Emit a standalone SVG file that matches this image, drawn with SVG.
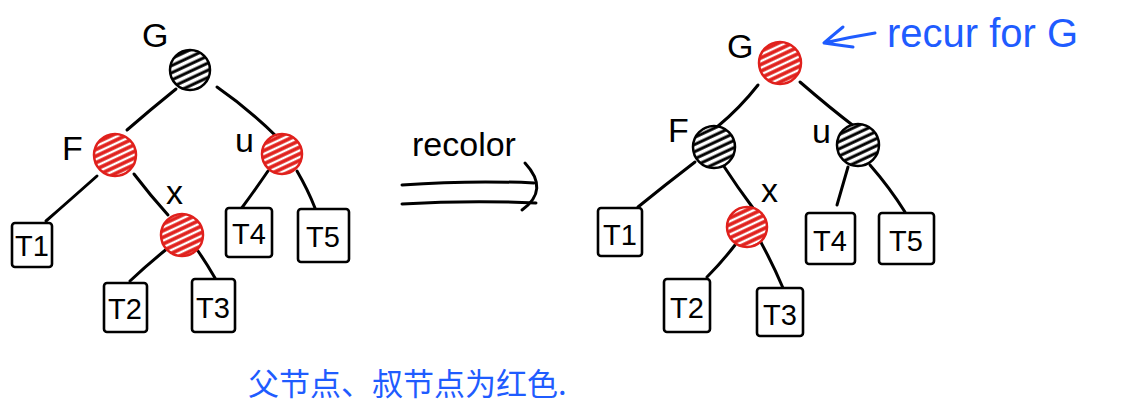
<svg xmlns="http://www.w3.org/2000/svg" width="1124" height="414" viewBox="0 0 1124 414">
<style>
.ln{stroke:#000;stroke-width:3;fill:none;stroke-linecap:round;stroke-linejoin:round}
.bx{stroke:#000;stroke-width:2.6;fill:#fff;stroke-linecap:round}
.lbl{font-family:"Liberation Sans",Arial,sans-serif;font-size:34px;fill:#000}
.tl{font-family:"Liberation Sans",Arial,sans-serif;font-size:29px;fill:#000;text-anchor:middle}
.red{stroke:#e0201c;stroke-width:2.5;fill:url(#hr)}
.blk{stroke:#000;stroke-width:2.5;fill:url(#hb)}
.blue{font-family:"Liberation Sans",Arial,sans-serif;font-size:40px;fill:#1f5cff}
</style>
<defs>
<pattern id="hr" width="6" height="6" patternUnits="userSpaceOnUse" patternTransform="rotate(-25)">
<rect width="6" height="6" fill="#fff"/>
<line x1="0" y1="2" x2="6" y2="2" stroke="#e0201c" stroke-width="3.6"/>
</pattern>
<pattern id="hb" width="6.5" height="6.5" patternUnits="userSpaceOnUse" patternTransform="rotate(-25)">
<rect width="6.5" height="6.5" fill="#fff"/>
<line x1="0" y1="2" x2="6.5" y2="2" stroke="#000" stroke-width="3"/>
</pattern>
</defs>

<g id="connectors">
<path class="ln" d="M176 89 Q150 110 127 130"/>
<path class="ln" d="M217 87 Q250 110 277 137"/>
<path class="ln" d="M97 176 Q70 200 46 221"/>
<path class="ln" d="M134 174 Q150 195 168 215"/>
<path class="ln" d="M268 171 Q255 190 241 209"/>
<path class="ln" d="M297 171 Q308 190 315 208"/>
<path class="ln" d="M168 248 Q148 264 130 281"/>
<path class="ln" d="M198 251 Q207 264 215 278"/>
<path class="ln" d="M758 85 Q740 108 717 127"/>
<path class="ln" d="M800 82 Q830 108 855 127"/>
<path class="ln" d="M695 162 Q665 185 638 207"/>
<path class="ln" d="M723 165 Q738 188 753 208"/>
<path class="ln" d="M848 167 Q842 188 837 205"/>
<path class="ln" d="M870 165 Q890 188 905 212"/>
<path class="ln" d="M735 245 Q722 262 707 277"/>
<path class="ln" d="M758 237 Q772 262 783 288"/>
<path class="ln" d="M402 185 Q470 180 534 183"/>
<path class="ln" d="M402 204 Q470 200 536 203"/>
<path class="ln" d="M525 163 Q550 190 522 210"/>
<path d="M875 33 Q850 37 824 43 M843 27 Q832 36 824 43 Q838 45 853 47" stroke="#1f5cff" stroke-width="3" fill="none" stroke-linecap="round" stroke-linejoin="round"/>
</g>

<g id="L_G"><text class="lbl" x="142" y="47">G</text><circle class="blk" cx="190" cy="70" r="20"/></g>
<g id="L_F"><text class="lbl" x="62" y="160">F</text><circle class="red" cx="115" cy="155" r="21"/></g>
<g id="L_U"><text class="lbl" x="235" y="152">u</text><circle class="red" cx="282" cy="154" r="20"/></g>
<g id="L_X"><text class="lbl" x="166" y="204">x</text><circle class="red" cx="182" cy="235" r="21"/></g>
<g id="L_T1"><rect class="bx" x="12" y="223" width="40" height="44" rx="3"/><text class="tl" x="32" y="256">T1</text></g>
<g id="L_T2"><rect class="bx" x="104" y="283" width="43" height="49" rx="3"/><text class="tl" x="125" y="319">T2</text></g>
<g id="L_T3"><rect class="bx" x="192" y="279" width="43" height="53" rx="3"/><text class="tl" x="213" y="318">T3</text></g>
<g id="L_T4"><rect class="bx" x="226" y="208" width="46" height="49" rx="3"/><text class="tl" x="249" y="244">T4</text></g>
<g id="L_T5"><rect class="bx" x="298" y="209" width="51" height="53" rx="3"/><text class="tl" x="323" y="247">T5</text></g>

<g id="recolor"><text class="lbl" x="412" y="156" font-size="38">recolor</text></g>

<g id="R_G"><text class="lbl" x="727" y="58">G</text><circle class="red" cx="780" cy="63" r="21"/></g>
<g id="R_F"><text class="lbl" x="668" y="142">F</text><circle class="blk" cx="714" cy="147" r="21"/></g>
<g id="R_U"><text class="lbl" x="812" y="143">u</text><circle class="blk" cx="858" cy="145" r="21"/></g>
<g id="R_X"><text class="lbl" x="761" y="202">x</text><circle class="red" cx="747" cy="227" r="20"/></g>
<g id="R_T1"><rect class="bx" x="598" y="208" width="44" height="48" rx="3"/><text class="tl" x="620" y="245">T1</text></g>
<g id="R_T2"><rect class="bx" x="664" y="279" width="46" height="53" rx="3"/><text class="tl" x="687" y="318">T2</text></g>
<g id="R_T3"><rect class="bx" x="757" y="288" width="46" height="48" rx="3"/><text class="tl" x="780" y="325">T3</text></g>
<g id="R_T4"><rect class="bx" x="806" y="213" width="49" height="51" rx="3"/><text class="tl" x="830" y="251">T4</text></g>
<g id="R_T5"><rect class="bx" x="879" y="213" width="55" height="51" rx="3"/><text class="tl" x="906" y="251">T5</text></g>

<g id="recur"><text class="blue" x="887" y="47">recur for G</text></g>
<g id="note"><text x="248" y="395" font-family="'Noto Sans CJK SC',sans-serif" font-size="31" fill="#1f5cff">父节点、叔节点为红色.</text></g>
</svg>
